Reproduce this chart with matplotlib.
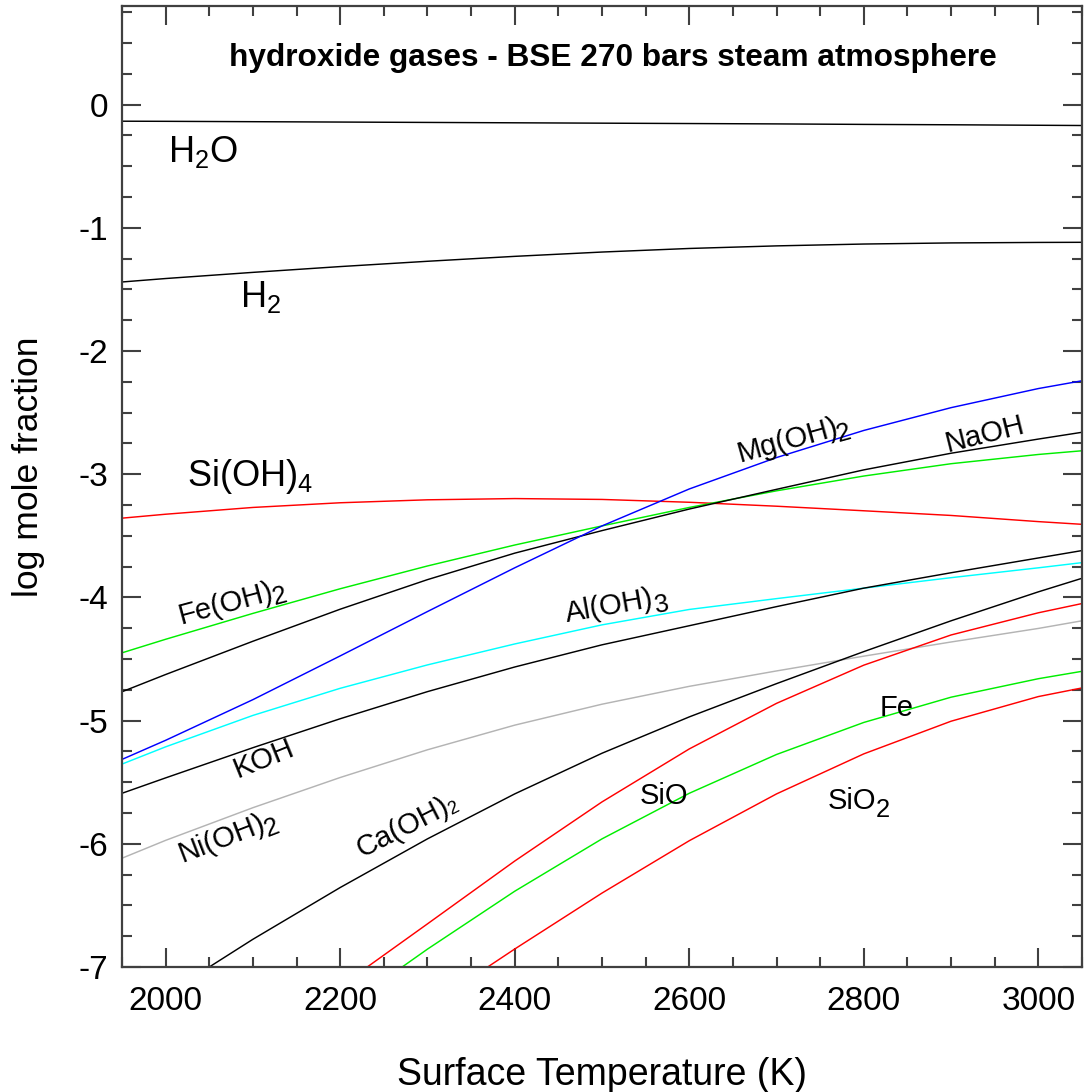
import numpy as np
import matplotlib
matplotlib.use("Agg")
import matplotlib.pyplot as plt
from matplotlib.ticker import MultipleLocator
from matplotlib.textpath import TextPath
from matplotlib.font_manager import FontProperties

plt.rcParams['font.family'] = ['Liberation Sans', 'DejaVu Sans']
plt.rcParams['mathtext.fontset'] = 'custom'
plt.rcParams['mathtext.rm'] = 'Liberation Sans'
plt.rcParams['mathtext.it'] = 'Liberation Sans'
plt.rcParams['axes.unicode_minus'] = False

# ---- data ----
T = [1950, 2000, 2100, 2200, 2300, 2400, 2500, 2600, 2700, 2800, 2900, 3000, 3050]
h2o = [-0.135, -0.136, -0.139, -0.142, -0.145, -0.148, -0.151, -0.154, -0.157, -0.161, -0.164, -0.168, -0.170]
h2 = [-1.44, -1.412, -1.362, -1.315, -1.272, -1.232, -1.197, -1.168, -1.147, -1.132, -1.123, -1.119, -1.118]
sioh4 = [-3.357, -3.325, -3.27, -3.232, -3.208, -3.198, -3.205, -3.228, -3.26, -3.297, -3.335, -3.385, -3.407]
feoh2 = [-4.45, -4.34, -4.13, -3.93, -3.745, -3.575, -3.42, -3.27, -3.135, -3.015, -2.915, -2.84, -2.81]
naoh = [-4.766, -4.626, -4.356, -4.096, -3.856, -3.641, -3.458, -3.283, -3.123, -2.965, -2.83, -2.715, -2.66]
mgoh2 = [-5.315, -5.16, -4.83, -4.475, -4.115, -3.76, -3.42, -3.12, -2.865, -2.645, -2.46, -2.305, -2.242]
aloh3 = [-5.353, -5.213, -4.958, -4.738, -4.548, -4.378, -4.223, -4.098, -4.01, -3.925, -3.84, -3.76, -3.718]
koh = [-5.59, -5.465, -5.22, -4.985, -4.765, -4.565, -4.385, -4.23, -4.075, -3.925, -3.80, -3.68, -3.62]
nioh2 = [-6.117, -5.972, -5.707, -5.462, -5.237, -5.037, -4.867, -4.722, -4.597, -4.477, -4.362, -4.252, -4.19]

T_caoh2 = [2050, 2100, 2200, 2300, 2400, 2500, 2600, 2700, 2800, 2900, 3000, 3050]
caoh2 = [-7.0, -6.775, -6.355, -5.96, -5.595, -5.265, -4.97, -4.70, -4.44, -4.19, -3.955, -3.845]

T_sio = [2231, 2300, 2400, 2500, 2600, 2700, 2800, 2900, 3000, 3050]
sio = [-7.0, -6.65, -6.14, -5.66, -5.23, -4.86, -4.55, -4.305, -4.125, -4.05]

T_fe = [2271, 2300, 2400, 2500, 2600, 2700, 2800, 2900, 3000, 3050]
fe = [-7.0, -6.855, -6.385, -5.96, -5.59, -5.275, -5.015, -4.81, -4.66, -4.60]

T_sio2 = [2369, 2400, 2500, 2600, 2700, 2800, 2900, 3000, 3050]
sio2 = [-7.0, -6.854, -6.40, -5.975, -5.595, -5.27, -5.005, -4.805, -4.735]

x_ticks = [2000, 2200, 2400, 2600, 2800, 3000]
y_ticks = [0, -1, -2, -3, -4, -5, -6, -7]

# ---- figure ----
fig = plt.figure(figsize=(10.84, 10.92), dpi=100)
ax = fig.add_axes([122 / 1084, 1 - 967 / 1092, 960 / 1084, 961 / 1092])

GREEN = '#00ee00'
lw = 1.05
ax.plot(T, h2o, color='black', lw=lw)
ax.plot(T, h2, color='black', lw=lw)
ax.plot(T, sioh4, color='#ff0000', lw=lw)
ax.plot(T, feoh2, color=GREEN, lw=lw)
ax.plot(T, naoh, color='black', lw=lw)
ax.plot(T, mgoh2, color='#0000ff', lw=lw)
ax.plot(T, aloh3, color='#00ffff', lw=lw)
ax.plot(T, koh, color='black', lw=lw)
ax.plot(T, nioh2, color='#b4b4b4', lw=lw)
ax.plot(T_caoh2, caoh2, color='black', lw=lw)
ax.plot(T_sio, sio, color='#ff0000', lw=lw)
ax.plot(T_fe, fe, color=GREEN, lw=lw)
ax.plot(T_sio2, sio2, color='#ff0000', lw=lw)

ax.set_xlim(1950, 3050)
ax.set_ylim(-7, 0.8)
ax.set_xticks(x_ticks)
ax.set_yticks(y_ticks)
ax.xaxis.set_minor_locator(MultipleLocator(50))
ax.yaxis.set_minor_locator(MultipleLocator(0.25))
ax.tick_params(which='both', direction='in', top=True, right=True,
               color='#404040', width=1.5, labelsize=24, labelcolor='black')
ax.tick_params(axis='x', which='major', length=14, pad=14)
ax.tick_params(axis='y', which='major', length=14, pad=10)
ax.tick_params(which='minor', length=7)
for s in ax.spines.values():
    s.set_color('#404040')
    s.set_linewidth(1.6)

ax.set_xlabel('Surface Temperature (K)', fontsize=27)
ax.xaxis.set_label_coords(0.5, -0.094)
ax.set_ylabel('log mole fraction', fontsize=25.5)
ax.yaxis.set_label_coords(-0.080, 0.52)

ax.text(2513, 0.38, 'hydroxide gases - BSE 270 bars steam atmosphere',
        fontsize=22.8, fontweight='bold', ha='center', va='center')

# big labels with mathtext subscripts
ax.text(2003, -0.47, r'H$_2$O', fontsize=26, ha='left', va='baseline')
ax.text(2085, -1.64, r'H$_2$', fontsize=26, ha='left', va='baseline')
ax.text(2025, -3.10, r'Si(OH)$_4$', fontsize=26, ha='left', va='baseline')

# rotated labels with near full-size subscripts
fp = FontProperties(family='Liberation Sans')


def tw(s, size):
    return TextPath((0, 0), s, size=size, prop=fp).get_extents().width


def label(cx, cy, main, sub='', size=21, subscale=0.88, drop=0.22, rot=0.0):
    r = np.deg2rad(rot)
    u = np.array([np.cos(r), np.sin(r)])
    n = np.array([-np.sin(r), np.cos(r)])
    ssize = size * subscale
    wm = tw(main, size)
    gap = 0.06 * size
    ws = tw(sub, ssize) if sub else 0.0
    total = wm + (gap + ws if sub else 0.0)
    start = -total / 2 * u - 0.36 * size * n
    ax.annotate(main, xy=(cx, cy), xycoords='data', xytext=tuple(start),
                textcoords='offset points', rotation=rot, rotation_mode='anchor',
                ha='left', va='baseline', fontsize=size)
    if sub:
        p = start + (wm + gap) * u - drop * size * n
        ax.annotate(sub, xy=(cx, cy), xycoords='data', xytext=tuple(p),
                    textcoords='offset points', rotation=rot, rotation_mode='anchor',
                    ha='left', va='baseline', fontsize=ssize)


label(2074, -4.02, 'Fe(OH)', '2', rot=15)
label(2717, -2.70, 'Mg(OH)', '2', rot=15.5)
label(2935, -2.66, 'NaOH', rot=14)
label(2515, -4.045, 'Al(OH)', '3', rot=10)
label(2109, -5.30, 'KOH', rot=22)
label(2069, -5.93, 'Ni(OH)', '2', rot=21)
label(2274, -5.84, 'Ca(OH)', '2', subscale=0.62, drop=0.1, rot=27)
label(2570, -5.59, 'SiO')
label(2835, -4.874, 'Fe')
label(2793, -5.63, 'SiO', '2', drop=0.3)

fig.savefig('out.png', dpi=100)
